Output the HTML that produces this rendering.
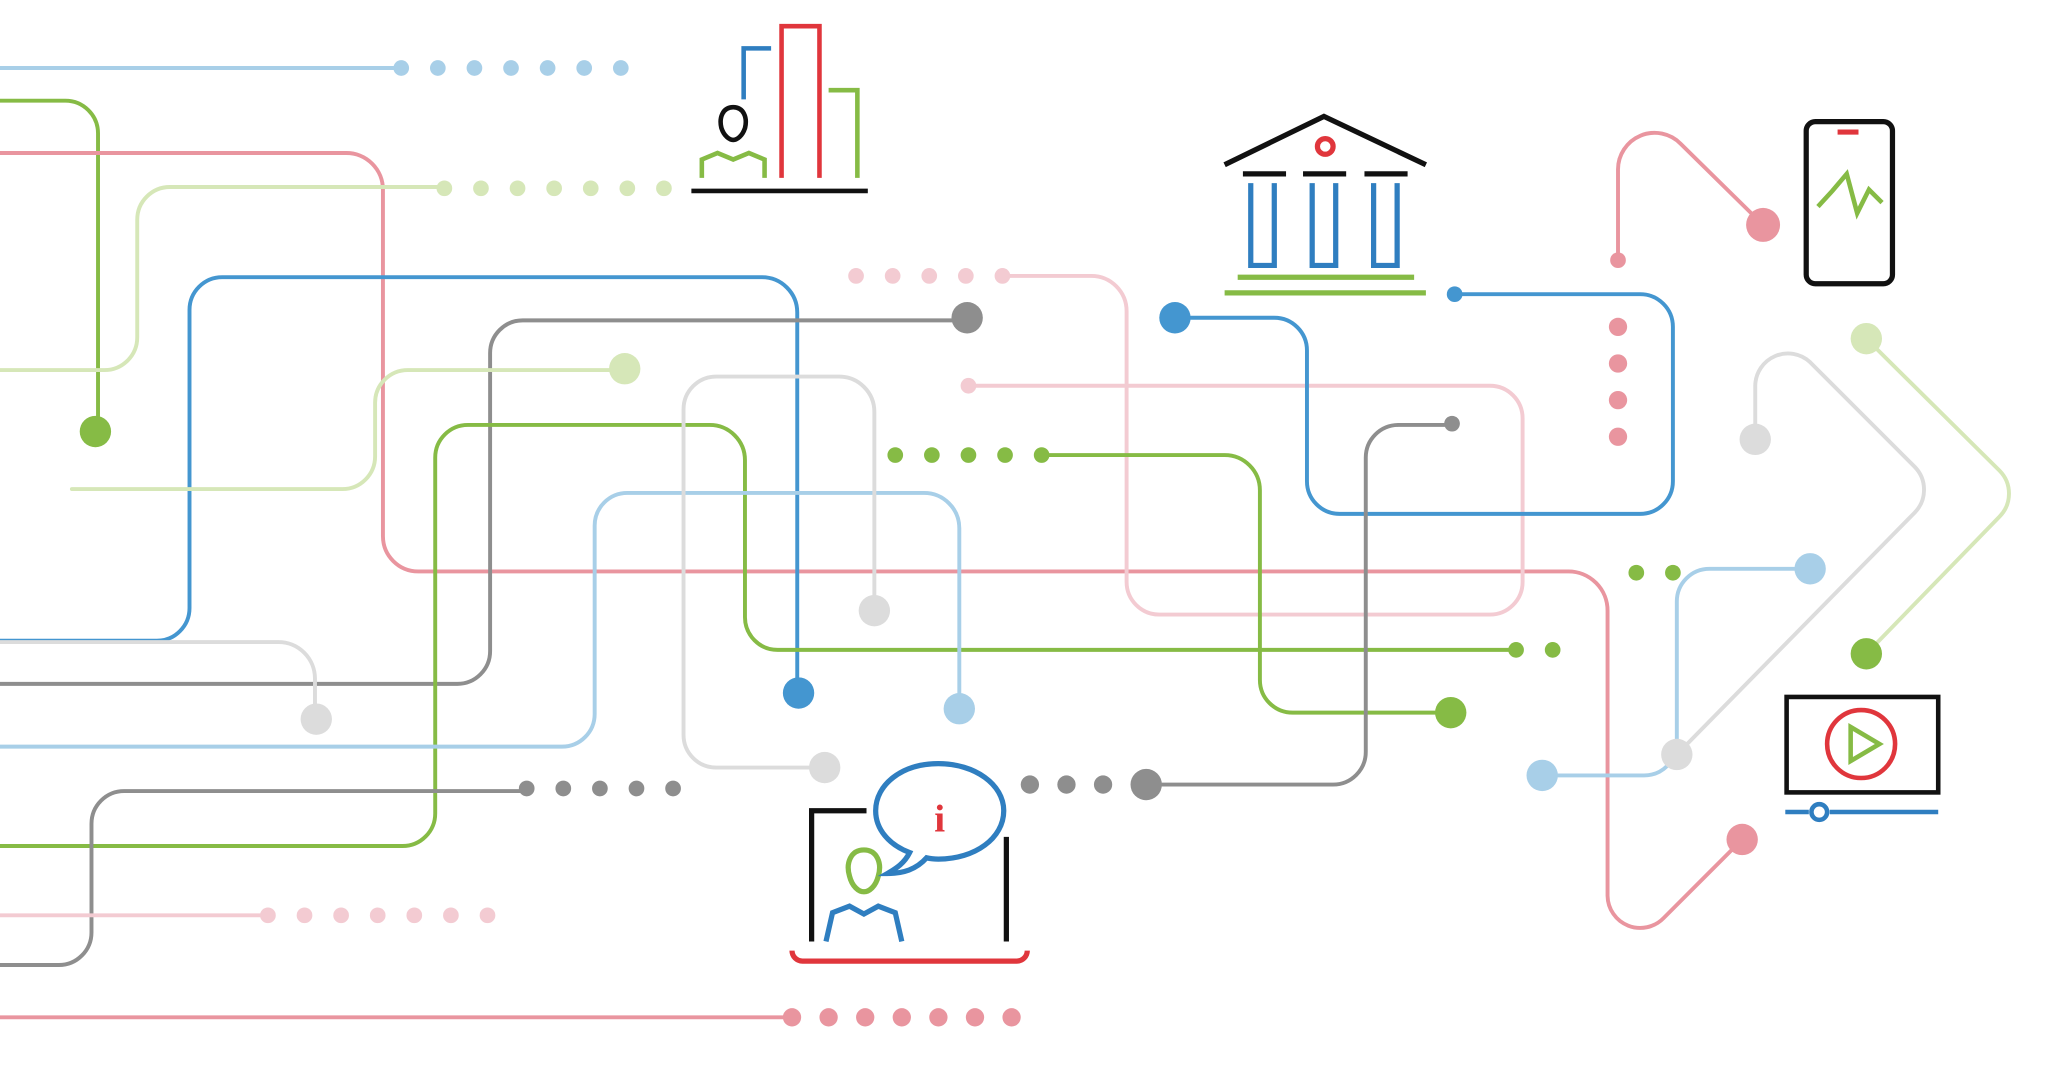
<!DOCTYPE html>
<html><head><meta charset="utf-8"><style>html,body{margin:0;padding:0;background:#fff;}svg{display:block}</style></head>
<body>
<svg width="2048" height="1084" viewBox="0 0 1567 829" preserveAspectRatio="none" xmlns="http://www.w3.org/2000/svg">
<g fill="none" stroke-width="3" stroke-linecap="round" stroke-linejoin="round">
<path d="M0 52 H305" stroke="#a8cfe8"/>
<path d="M0 77 H50 a25 25 0 0 1 25 25 V330" stroke="#86bb45"/>
<path d="M0 117 H265 a28 28 0 0 1 28 28 V410 a27 27 0 0 0 27 27 H1200 a30 30 0 0 1 30 30 V685 a25 25 0 0 0 43 17 L1333 642" stroke="#e9959f"/>
<path d="M0 283 H80 a25 25 0 0 0 25 -25 V168 a25 25 0 0 1 25 -25 H340" stroke="#d6e7b8"/>
<path d="M0 490 H120 a25 25 0 0 0 25 -25 V237 a25 25 0 0 1 25 -25 H583 a27 27 0 0 1 27 27 V530" stroke="#4496d0"/>
<path d="M0 523 H350 a25 25 0 0 0 25 -25 V270 a25 25 0 0 1 25 -25 H740" stroke="#8e8e8e"/>
<path d="M55 374 H262 a25 25 0 0 0 25 -25 V308 a25 25 0 0 1 25 -25 H478" stroke="#d6e7b8"/>
<path d="M0 647 H308 a25 25 0 0 0 25 -25 V350 a25 25 0 0 1 25 -25 H543 a27 27 0 0 1 27 27 V472 a25 25 0 0 0 25 25 H1160" stroke="#86bb45"/>
<path d="M0 491 H213 a28 28 0 0 1 28 28 V550" stroke="#dcdcdc"/>
<path d="M0 571 H430 a25 25 0 0 0 25 -25 V402 a25 25 0 0 1 25 -25 H707 a27 27 0 0 1 27 27 V542" stroke="#a8cfe8"/>
<path d="M631 587 H548 a25 25 0 0 1 -25 -25 V313 a25 25 0 0 1 25 -25 H642 a27 27 0 0 1 27 27 V467" stroke="#dcdcdc"/>
<path d="M0 738 H45 a25 25 0 0 0 25 -25 V630 a25 25 0 0 1 25 -25 H403" stroke="#8e8e8e"/>
<path d="M0 700 H205" stroke="#f3cbd2"/>
<path d="M0 778 H606" stroke="#e9959f"/>
<path d="M767 211 H835 a27 27 0 0 1 27 27 V445 a25 25 0 0 0 25 25 H1140 a25 25 0 0 0 25 -25 V320 a25 25 0 0 0 -25 -25 H741" stroke="#f3cbd2"/>
<path d="M797 348 H937 a27 27 0 0 1 27 27 V520 a25 25 0 0 0 25 25 H1110" stroke="#86bb45"/>
<path d="M899 243 H975 a25 25 0 0 1 25 25 V368 a25 25 0 0 0 25 25 H1255 a25 25 0 0 0 25 -25 V250 a25 25 0 0 0 -25 -25 H1113" stroke="#4496d0"/>
<path d="M877 600 H1020 a25 25 0 0 0 25 -25 V350 a25 25 0 0 1 25 -25 H1111" stroke="#8e8e8e"/>
<path d="M1238 199 V130 a28 28 0 0 1 48 -20 L1349 172" stroke="#e9959f"/>
<path d="M1180 593 H1258 a25 25 0 0 0 25 -25 V460 a25 25 0 0 1 25 -25 H1385" stroke="#a8cfe8"/>
<path d="M1343 336 V295 a25 25 0 0 1 42 -18 L1465 357 a25 25 0 0 1 0 35 L1283 577" stroke="#dcdcdc"/>
<path d="M1428 259 L1530 360 a25 25 0 0 1 0 35 L1428 500" stroke="#d6e7b8"/>
</g>
<g>
<g fill="#a8cfe8"><circle cx="307" cy="52" r="6"/><circle cx="335" cy="52" r="6"/><circle cx="363" cy="52" r="6"/><circle cx="391" cy="52" r="6"/><circle cx="419" cy="52" r="6"/><circle cx="447" cy="52" r="6"/><circle cx="475" cy="52" r="6"/><circle cx="734" cy="542" r="12"/><circle cx="1180" cy="593" r="12"/><circle cx="1385" cy="435" r="12"/></g>
<g fill="#d6e7b8"><circle cx="340" cy="144" r="6"/><circle cx="368" cy="144" r="6"/><circle cx="396" cy="144" r="6"/><circle cx="424" cy="144" r="6"/><circle cx="452" cy="144" r="6"/><circle cx="480" cy="144" r="6"/><circle cx="508" cy="144" r="6"/><circle cx="478" cy="282" r="12"/><circle cx="1428" cy="259" r="12"/></g>
<g fill="#86bb45"><circle cx="73" cy="330" r="12"/><circle cx="1160" cy="497" r="6"/><circle cx="1188" cy="497" r="6"/><circle cx="685" cy="348" r="6"/><circle cx="713" cy="348" r="6"/><circle cx="741" cy="348" r="6"/><circle cx="769" cy="348" r="6"/><circle cx="797" cy="348" r="6"/><circle cx="1110" cy="545" r="12"/><circle cx="1252" cy="438" r="6"/><circle cx="1280" cy="438" r="6"/><circle cx="1428" cy="500" r="12"/></g>
<g fill="#4496d0"><circle cx="611" cy="530" r="12"/><circle cx="899" cy="243" r="12"/><circle cx="1113" cy="225" r="6"/></g>
<g fill="#8e8e8e"><circle cx="740" cy="243" r="12"/><circle cx="403" cy="603" r="6"/><circle cx="431" cy="603" r="6"/><circle cx="459" cy="603" r="6"/><circle cx="487" cy="603" r="6"/><circle cx="515" cy="603" r="6"/><circle cx="788" cy="600" r="7"/><circle cx="816" cy="600" r="7"/><circle cx="844" cy="600" r="7"/><circle cx="877" cy="600" r="12"/><circle cx="1111" cy="324" r="6"/></g>
<g fill="#dcdcdc"><circle cx="242" cy="550" r="12"/><circle cx="631" cy="587" r="12"/><circle cx="669" cy="467" r="12"/><circle cx="1343" cy="336" r="12"/><circle cx="1283" cy="577" r="12"/></g>
<g fill="#f3cbd2"><circle cx="205" cy="700" r="6"/><circle cx="233" cy="700" r="6"/><circle cx="261" cy="700" r="6"/><circle cx="289" cy="700" r="6"/><circle cx="317" cy="700" r="6"/><circle cx="345" cy="700" r="6"/><circle cx="373" cy="700" r="6"/><circle cx="655" cy="211" r="6"/><circle cx="683" cy="211" r="6"/><circle cx="711" cy="211" r="6"/><circle cx="739" cy="211" r="6"/><circle cx="767" cy="211" r="6"/><circle cx="741" cy="295" r="6"/></g>
<g fill="#e9959f"><circle cx="606" cy="778" r="7"/><circle cx="634" cy="778" r="7"/><circle cx="662" cy="778" r="7"/><circle cx="690" cy="778" r="7"/><circle cx="718" cy="778" r="7"/><circle cx="746" cy="778" r="7"/><circle cx="774" cy="778" r="7"/><circle cx="1238" cy="199" r="6"/><circle cx="1238" cy="250" r="7"/><circle cx="1238" cy="278" r="7"/><circle cx="1238" cy="306" r="7"/><circle cx="1238" cy="334" r="7"/><circle cx="1349" cy="172" r="13"/><circle cx="1333" cy="642" r="12"/></g>
</g>
<g fill="none" stroke-width="3.5">
<path d="M529 146 H664" stroke="#111"/>
<path d="M598 136 V20 H627 V136" stroke="#e0363c"/>
<path d="M569 76 V37 H590" stroke="#2f7ec0"/>
<path d="M634 69 H656 V136" stroke="#86bb45"/>
<path d="M561 82 c-8 0 -11 8 -9 16 c2 6 6 9 9 9 c3 0 7 -3 9 -9 c2 -8 -1 -16 -9 -16z" stroke="#111"/>
<path d="M537 136 V122 l12 -5 l12 5 l12 -5 l12 5 V136" stroke="#86bb45"/>
</g>
<g fill="none" stroke-width="4">
<path d="M937 126 L1013 89 L1091 126" stroke="#111"/>
<path d="M951 133 H984 M997 133 H1030 M1044 133 H1077" stroke="#111"/>
<circle cx="1014" cy="112" r="6" stroke="#e0363c"/>
<path d="M957 140 V203 H975 V140 M1004 140 V203 H1022 V140 M1051 140 V203 H1069 V140" stroke="#2f7ec0"/>
<path d="M947 212 H1082 M937 224 H1091" stroke="#86bb45"/>
</g>
<g fill="none" stroke-width="4">
<rect x="1382" y="93" width="66" height="124" rx="7" stroke="#111"/>
<path d="M1406 101 H1422" stroke="#e0363c"/>
<path d="M1391 158 L1402 146 L1413 133 L1421 163 L1430 145 L1440 155" stroke="#86bb45" stroke-width="3.5"/>
</g>
<g fill="none" stroke-width="3.5">
<rect x="1367" y="533" width="116" height="73" stroke="#111"/>
<circle cx="1424" cy="569" r="26" stroke="#e0363c"/>
<path d="M1416 556 L1438 569 L1416 582 Z" stroke="#86bb45"/>
<path d="M1366 621 H1384 M1400 621 H1483" stroke="#2f7ec0"/>
<circle cx="1392" cy="621" r="6" stroke="#2f7ec0"/>
</g>
<g fill="none" stroke-width="4">
<path d="M621 720 V620 H663" stroke="#111"/>
<path d="M770 640 V720" stroke="#111"/>
<path d="M606 727 a8 8 0 0 0 8 8 H778 a8 8 0 0 0 8 -8" stroke="#e0363c"/>
<path d="M661 650 c-10 0 -14 10 -11 20 c2 8 7 12 11 12 c4 0 9 -4 11 -12 c3 -10 -1 -20 -11 -20z" stroke="#86bb45"/>
<path d="M632 720 l5 -22 l13 -5 l11 6 l11 -6 l13 5 l5 22" stroke="#2f7ec0"/>
<path d="M718 584 c-28 0 -48 16 -48 36 c0 14 10 26 26 32 c-4 8 -10 12 -17 16 c12 0 22 -3 30 -12 c4 1 6 1 9 1 c28 0 50 -16 50 -37 c0 -20 -22 -36 -50 -36z" stroke="#2f7ec0"/>
</g>
<text x="719" y="636" font-family="Liberation Serif, serif" font-weight="bold" font-size="30" fill="#e0363c" text-anchor="middle">i</text>
</svg>
</body></html>
